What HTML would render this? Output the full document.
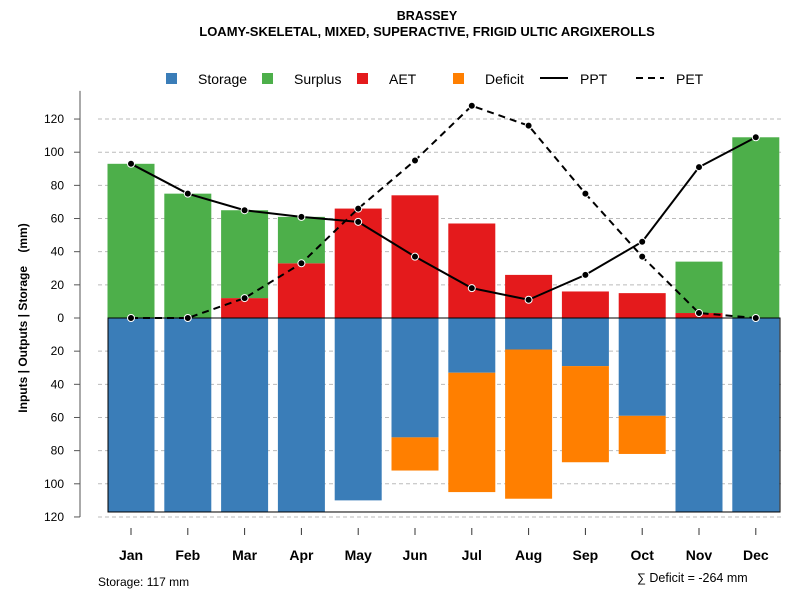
<!DOCTYPE html>
<html><head><meta charset="utf-8"><style>
body{margin:0;background:#fff}
svg{font-family:"Liberation Sans",sans-serif;display:block}
</style></head><body>
<svg id="c" width="800" height="600" xmlns="http://www.w3.org/2000/svg">
<text x="427" y="20" text-anchor="middle" font-size="12.5" font-weight="bold">BRASSEY</text>
<text x="427" y="36" text-anchor="middle" font-size="13" font-weight="bold">LOAMY-SKELETAL, MIXED, SUPERACTIVE, FRIGID ULTIC ARGIXEROLLS</text>
<g id="legend" font-size="14">
<rect x="166" y="73" width="11" height="11" fill="#3a7db8"/><text x="198" y="84">Storage</text>
<rect x="262" y="73" width="11" height="11" fill="#4daf4a"/><text x="294" y="84">Surplus</text>
<rect x="357" y="73" width="11" height="11" fill="#e41a1c"/><text x="389" y="84">AET</text>
<rect x="453" y="73" width="11" height="11" fill="#ff7f00"/><text x="485" y="84">Deficit</text>
<line x1="540" y1="78" x2="568" y2="78" stroke="#000" stroke-width="2"/><text x="580" y="84">PPT</text>
<line x1="636" y1="78" x2="664" y2="78" stroke="#000" stroke-width="2" stroke-dasharray="7,5"/><text x="676" y="84">PET</text>
</g>
<text transform="translate(27,318) rotate(-90)" text-anchor="middle" font-size="12" font-weight="bold">Inputs | Outputs | Storage&#160;&#160;&#160;&#160;(mm)</text>
<text x="98" y="586" font-size="12">Storage: 117 mm</text>
<text x="637" y="582" font-size="12.5">∑ Deficit = -264 mm</text>
<g id="plot"></g>
</svg>
<script>
const months=["Jan","Feb","Mar","Apr","May","Jun","Jul","Aug","Sep","Oct","Nov","Dec"];
const storage=[117,117,117,117,110,72,33,19,29,59,117,117];
const deficit=[0,0,0,0,0,20,72,90,58,23,0,0];
const aet=[0,0,12,33,66,74,57,26,16,15,3,0];
const surplus=[93,75,53,28,0,0,0,0,0,0,31,109];
const ppt=[93,75,65,61,58,37,18,11,26,46,91,109];
const pet=[0,0,12,33,66,95,128,116,75,37,3,0];
const ticks=[120,100,80,60,40,20,0,20,40,60,80,100,120];
const NS="http://www.w3.org/2000/svg";
const g=document.getElementById('plot');
const y0=318,k=1.658;
const yUp=v=>y0-v*k, yDn=v=>y0+v*k;
const xc=i=>131+i*56.8, bw=47;
function mk(t,a){const e=document.createElementNS(NS,t);for(const n in a)e.setAttribute(n,a[n]);g.appendChild(e);return e;}
ticks.forEach((t,i)=>{const y=i<6?yUp(t):(i==6?y0:yDn(t));
 if(i!=6){const l=mk('line',{x1:98,x2:782,y1:y,y2:y,stroke:'#bbb','stroke-dasharray':'4,3'});}
 const tk=mk('line',{x1:74,x2:80,y1:y,y2:y,stroke:'#555'});
 const tx=mk('text',{x:64,y:y+4,'text-anchor':'end','font-size':12});tx.textContent=t;});
const ax=mk('line',{x1:80,x2:80,y1:yUp(137),y2:yDn(120),stroke:'#555'});
months.forEach((m,i)=>{const x=xc(i);
 let r=mk('rect',{x:x-bw/2,y:y0,width:bw,height:storage[i]*k,fill:'#3a7db8'});
 if(deficit[i]>0){r=mk('rect',{x:x-bw/2,y:yDn(storage[i]),width:bw,height:deficit[i]*k,fill:'#ff7f00'});}
 if(aet[i]>0){r=mk('rect',{x:x-bw/2,y:yUp(aet[i]),width:bw,height:aet[i]*k,fill:'#e41a1c'});}
 if(surplus[i]>0){r=mk('rect',{x:x-bw/2,y:yUp(aet[i]+surplus[i]),width:bw,height:surplus[i]*k,fill:'#4daf4a'});}
 const t=mk('line',{x1:x,x2:x,y1:528,y2:535,stroke:'#333'});
 const l=mk('text',{x:x,y:560,'text-anchor':'middle','font-size':14,'font-weight':'bold'});l.textContent=m;});
const fr=mk('rect',{x:108,y:y0,width:672,height:117*k,fill:'none',stroke:'#000','stroke-width':1});
function series(arr,name,dash){const p=mk('polyline',{points:arr.map((v,i)=>xc(i)+','+yUp(v)).join(' '),fill:'none',stroke:'#000','stroke-width':2,'stroke-dasharray':dash});
 arr.forEach((v,i)=>{const c=mk('circle',{cx:xc(i),cy:yUp(v),r:3.5,fill:'#000',stroke:'#fff','stroke-width':1});});}
series(pet,'pet','7,5');series(ppt,'ppt','none');
</script>
</body></html>
